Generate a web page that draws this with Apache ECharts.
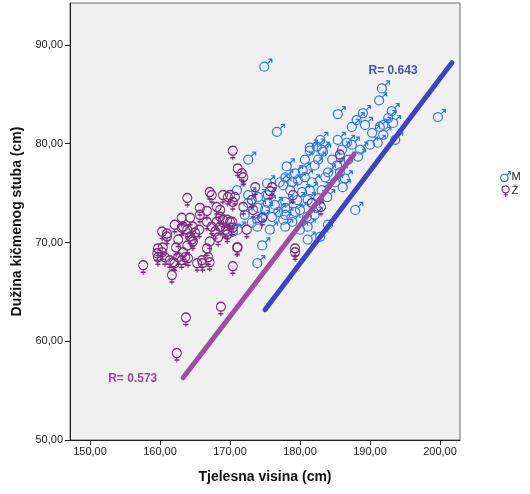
<!DOCTYPE html>
<html>
<head>
<meta charset="utf-8">
<script src="https://cdn.jsdelivr.net/npm/echarts@6/dist/echarts.min.js"></script>
<style>
html,body{margin:0;padding:0;background:#fff;}
#c{width:530px;height:494px;}
</style>
</head>
<body>
<div id="c"></div>
<script>
// Data (heights in cm, spine length in cm)
const femaleX = [170.4,171.1,171.7,171.9,173.6,176.0,179.0,169.7,170.4,171.9,173.3,174.6,169.6,170.3,172.4,169.6,171.1,179.3,185.7,179.3,170.4,168.7,163.7,162.4,157.6,161.7,163.9,167.1,167.4,169.0,170.0,170.7,165.7,166.7,168.1,168.6,162.1,163.1,164.3,165.7,164.7,163.9,163.1,160.3,161.0,162.6,164.3,164.6,165.0,166.7,167.4,167.9,168.6,169.6,168.1,169.0,170.0,170.4,159.7,160.3,160.4,159.6,160.7,161.4,162.1,162.6,163.3,163.9,163.6,165.3,166.0,166.7,166.9,167.1,171.0,162.3,164.7,167.1,168.3,169.4,165.6,163.3,161.0,159.7,161.9,163.1,164.0,166.1,168.6,175.7,173.1,181.7,183.0];
const femaleY = [79.3,77.5,77.0,76.6,75.6,75.6,74.8,74.6,74.1,73.6,73.3,72.5,72.3,72.1,71.3,71.1,69.5,69.4,78.9,69.0,67.6,63.5,62.4,58.8,67.7,66.7,74.5,75.1,74.8,74.8,74.8,74.6,73.5,73.2,73.6,73.3,71.8,72.5,72.5,72.8,71.6,71.3,71.5,71.1,70.6,70.3,70.6,70.3,71.0,72.1,71.6,71.1,71.6,70.8,72.1,72.3,72.1,71.5,69.4,69.0,69.5,68.9,68.5,68.2,67.9,68.5,69.0,69.7,68.5,67.9,68.2,69.4,68.5,68.0,69.5,69.5,70.1,70.1,70.5,71.3,71.3,71.6,70.9,68.5,68.0,68.2,68.4,67.9,72.6,75.2,74.3,74.0,73.6];

const maleX = [174.9,176.7,172.6,178.1,180.7,181.4,182.4,183.3,182.1,180.4,179.3,177.9,178.9,179.7,180.7,181.7,177.1,175.3,171.0,172.6,174.0,175.4,177.9,179.6,181.1,182.6,172.6,175.4,177.9,177.9,177.6,177.9,179.3,181.0,181.1,180.0,176.0,174.0,173.9,173.1,171.1,170.4,174.6,181.1,182.9,173.9,177.6,174.6,173.9,185.4,189.0,193.1,188.1,187.4,189.3,191.4,193.3,191.9,191.1,190.0,185.4,186.7,187.4,182.9,183.1,182.6,188.3,186.9,184.0,183.6,185.7,186.4,186.1,183.9,187.9,184.0,191.7,191.3,199.7,181.4,191.9,176.4,178.6,180.3,176.9,175.0,178.9,180.0,182.1,175.7,172.1,181.4,182.3,183.1,185.0,184.6,185.3,186.0,188.6,190.3,192.6,193.6];
const maleY = [87.8,81.2,78.4,77.7,78.4,79.3,79.7,79.2,77.8,77.3,77.0,76.6,76.1,76.3,76.6,76.1,76.1,76.0,75.3,74.8,74.6,74.8,74.1,74.3,74.3,74.5,74.0,74.0,73.5,72.8,72.3,71.6,73.1,72.6,71.6,73.3,72.6,73.5,72.3,72.0,71.3,71.1,69.7,70.3,70.6,67.9,75.8,72.5,71.6,83.0,83.1,83.3,82.4,81.7,81.9,81.7,82.1,80.9,80.1,79.9,80.4,80.1,79.9,80.4,79.4,78.4,78.7,78.4,77.1,76.6,77.1,76.5,75.6,74.6,73.3,71.8,85.6,84.4,82.7,79.6,81.9,73.8,75.3,75.1,73.1,73.3,72.1,71.3,72.8,71.3,72.8,75.3,73.5,75.3,76.1,78.4,77.8,79.4,79.4,81.1,82.6,80.4];

// fit line end points
const maleFitX = [175.0, 201.7];
const maleFitY = [63.2, 88.2];
const femaleFitX = [163.3, 187.7];
const femaleFitY = [56.3, 78.9];
const maleR = 'R= 0.643';
const femaleR = 'R= 0.573';
const maleRPos = [193.3, 87.4];
const femaleRPos = [156.1, 56.2];

const xTicks = [150,160,170,180,190,200];
const yTicks = [50,60,70,80,90];
const seriesNames = ['M','Ž'];

const malePath = 'path://M4.5,3 A4.5,4.5 0 1 1 4.49,3 Z M7.7,4.3 L12,0 M8.5,0 L12,0 L12,3.5';
const femalePath = 'path://M4.5,0 A4.5,4.5 0 1 1 4.49,0 Z M4.5,9 L4.5,14 M2,11.5 L7,11.5';

const zip = (a,b) => a.map((v,i)=>[v,b[i]]);
const fmt = v => v.toFixed(2).replace('.', ',');

const maleColor = '#2a78f0';
const femaleColor = '#7c2c80';

const chart = echarts.init(document.getElementById('c'), null, {renderer:'canvas'});
chart.setOption({
  animation:false,
  backgroundColor:'#fff',
  textStyle:{fontFamily:'Liberation Sans, Arial, sans-serif'},
  grid:{left:70,right:70,top:3,bottom:54,show:true,backgroundColor:'#f0f0f0',borderColor:'#6a6a6a',borderWidth:1},
  legend:{
    orient:'vertical', left:495, top:166, itemWidth:10, itemHeight:11, itemGap:3,
    textStyle:{fontSize:11,color:'#222',padding:[0,0,0,-4]},
    data:[
      {name:'M',icon:malePath,itemStyle:{color:'rgba(0,0,0,0)',borderColor:maleColor,borderWidth:1.2}},
      {name:'Ž',icon:femalePath,itemStyle:{color:'rgba(0,0,0,0)',borderColor:femaleColor,borderWidth:1.2}}
    ]
  },
  xAxis:{
    type:'value', min:147.14, max:202.86,
    name:'Tjelesna visina (cm)', nameLocation:'middle', nameGap:30,
    nameTextStyle:{fontSize:14,fontWeight:'bold',color:'#111'},
    axisLine:{show:true,lineStyle:{color:'#222'}},
    axisTick:{show:true,length:5,lineStyle:{color:'#222'},customValues:xTicks},
    axisLabel:{fontSize:11,color:'#222',margin:6,customValues:xTicks,formatter:fmt},
    splitLine:{show:false}
  },
  yAxis:{
    type:'value', min:50, max:94.25,
    name:'Dužina kičmenog stuba (cm)', nameLocation:'middle', nameGap:44,
    nameTextStyle:{fontSize:14,fontWeight:'bold',color:'#111'},
    axisLine:{show:true,lineStyle:{color:'#222'}},
    axisTick:{show:true,length:5,lineStyle:{color:'#222'},customValues:yTicks},
    axisLabel:{fontSize:11,color:'#222',margin:7,customValues:yTicks,formatter:fmt},
    splitLine:{show:false}
  },
  series:[
    {name:'M',type:'scatter',data:zip(maleX,maleY),symbol:malePath,symbolSize:[12,12],symbolOffset:[1.5,-1.5],
      itemStyle:{color:'rgba(0,0,0,0)',borderColor:maleColor,borderWidth:1.2,opacity:1},z:2},
    {name:'Ž',type:'scatter',data:zip(femaleX,femaleY),symbol:femalePath,symbolSize:[9,14],symbolOffset:[0,2.5],
      itemStyle:{color:'rgba(0,0,0,0)',borderColor:femaleColor,borderWidth:1.2,opacity:1},z:3},
    {name:'fitM',type:'line',data:zip(maleFitX,maleFitY),symbol:'none',lineStyle:{color:'#4141c2',width:5,cap:'round'},z:4,
      markPoint:{symbol:'circle',symbolSize:0,data:[{coord:maleRPos,label:{show:true,formatter:maleR,color:'#4b4fbf',fontSize:12,fontWeight:'bold',fontFamily:'Liberation Sans, Arial, sans-serif'}}]}},
    {name:'fitF',type:'line',data:zip(femaleFitX,femaleFitY),symbol:'none',lineStyle:{color:'#a04ca4',width:5,cap:'round'},z:4,
      markPoint:{symbol:'circle',symbolSize:0,data:[{coord:femaleRPos,label:{show:true,formatter:femaleR,color:'#9c4aa0',fontSize:12,fontWeight:'bold',fontFamily:'Liberation Sans, Arial, sans-serif'}}]}}
  ]
});
</script>
</body>
</html>
